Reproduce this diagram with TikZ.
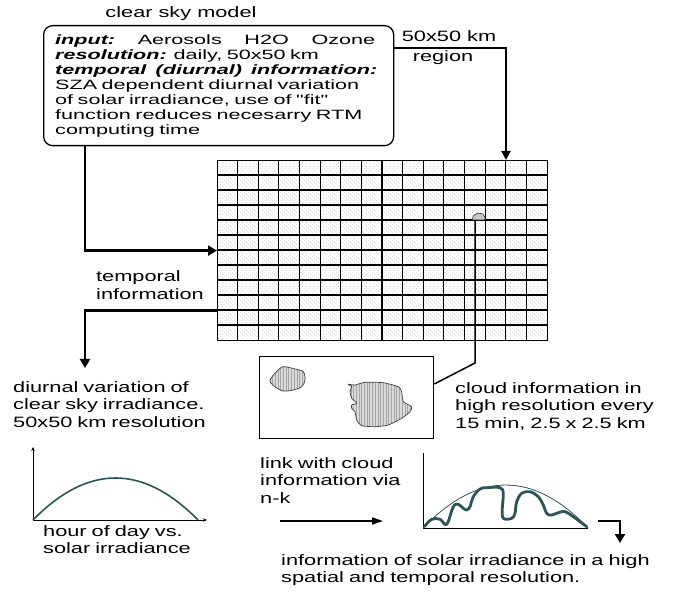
\documentclass[tikz,border=0pt]{standalone}
\usepackage{fontspec}
\setmainfont{Liberation Sans}[FakeStretch=1.45]
\newfontfamily\boxfont{Liberation Sans}[FakeStretch=1.6]
\usetikzlibrary{arrows.meta,patterns,patterns.meta,calc}
\newcommand\myBI[1]{\textbf{\textit{#1}}}
\definecolor{curvecol}{RGB}{45,84,84}
\tikzdeclarepattern{
  name=stipple,
  type=uncolored,
  bounding box={(0pt,0pt) and (4pt,4pt)},
  tile size={(4pt,4pt)},
  code={\fill (1pt,1pt) circle (0.45pt); \fill (3pt,3pt) circle (0.45pt);}
}
\begin{document}
\begin{tikzpicture}[x=1pt,y=-1pt,
  txt/.style={inner sep=0pt, anchor=base west, align=left, text width=#1, font=\fontsize{15}{17.8}\selectfont},
  txt/.default=220pt,
  ctxt/.style={inner sep=0pt, anchor=base, font=\fontsize{15}{17.8}\selectfont},
  frame/.style={draw, line width=1.3pt, inner sep=0pt, anchor=north west},
  gridline/.style={line width=1.2pt},
  thickarr/.style={line width=2.4pt, -{Triangle[length=9pt,width=10pt]}},
  medarr/.style={line width=2pt, -{Triangle[length=9pt,width=9pt]}},
  slimarr/.style={line width=2pt, -{Triangle[length=11pt,width=7pt]}},
  link/.style={line width=1.5pt},
  axis/.style={line width=0.8pt},
  axisarr/.style={line width=0.8pt, -{Stealth[length=4pt,width=3.5pt]}},
  clearcurve/.style={draw=curvecol, line width=1.6pt},
  arccurve/.style={draw=curvecol, line width=0.8pt},
  wavycurve/.style={draw=curvecol, line width=2.8pt, line cap=round, line join=round},
  cloud/.style={preaction={fill=gray!30}, pattern={Lines[angle=90,distance=2.7pt,line width=1pt]}, pattern color=gray!70, draw=black!75, line width=0.7pt}
]
\path[use as bounding box] (0,0) rectangle (677,593);

% clear sky model box
\node[ctxt] (title) at (181,18) {clear sky model};
\node[frame, rounded corners=9pt, minimum width=350pt, minimum height=120pt] (csm) at (43,25) {};
\node[inner sep=0pt, anchor=base west, align=left, text width=335pt, font=\boxfont\fontsize{13.5}{15}\selectfont] (csmtext) at (55,45)
 {\makebox[320pt][l]{\myBI{input:}\hfill Aerosols\hfill H2O\hfill Ozone}\\
  \myBI{resolution:} daily, 50x50 km\\
  \makebox[322pt][l]{\myBI{temporal\hfill(diurnal)\hfill information:}}\\
  SZA dependent diurnal variation\\
  of solar irradiance, use of "fit"\\
  function reduces necesarry RTM\\
  computing time};

% region label
\node[ctxt] (reg1) at (449,42) {50x50 km};
\node[ctxt] (reg2) at (443,62) {region};

% grid
\node[frame, line width=1.2pt, minimum width=330pt, minimum height=180pt, pattern=stipple, pattern color=gray!60] (grid) at (217,160) {};
\foreach \i in {1,...,15}
  \draw[gridline] ($(grid.north west)+(\i*20.625,0)$) -- ($(grid.south west)+(\i*20.625,0)$);
\foreach \j in {1,...,11}
  \draw[gridline] ($(grid.north west)+(0,\j*15)$) -- ($(grid.north east)+(0,\j*15)$);

% small cloud in grid
\filldraw[fill=gray!45, draw=black!80, line width=0.6pt] (472,220) -- (473.5,215.5) -- (478,213) -- (483,214) -- (485.5,218.5) -- (484,220) -- cycle;
\coordinate (gc) at (475,220);

% arrows to grid
\draw[thickarr] ([xshift=42pt]csm.south west) |- (grid.west);
\draw[medarr] ([yshift=-23pt]csm.north east) -| ([xshift=289pt]grid.north west);

% temporal information
\node[txt] (tinfo) at (96,282) {temporal\\information};
\coordinate (tend) at (85,368);
\draw[thickarr] ([yshift=-60pt]grid.west) -| (tend);

% diurnal variation text
\node[txt] (diurnal) at (13,392) {diurnal variation of\\clear sky irradiance.\\50x50 km resolution};

% left chart
\coordinate (o1) at (33,520);
\coordinate (y1) at (33,447);
\coordinate (x1) at (207,520);
\coordinate (e1) at (198,520);
\draw[axisarr] (o1) -- (y1);
\draw[axisarr] (o1) -- (x1);
\draw[clearcurve] (o1) .. controls (88,464) and (143,464) .. (e1);
\node[txt] (hour) at (43,536) {hour of day vs.\\solar irradiance};

% cloud box
\node[frame, minimum width=174pt, minimum height=82pt] (cb) at (259,356) {};
\path[cloud] plot[smooth cycle, tension=0.5] coordinates {(270,380) (280,368.3) (285,366.7) (295,369) (303.3,371.7) (305,380) (301.7,386.7) (293.3,390) (283.3,391) (275,386.7)};
\path[cloud] plot[smooth cycle, tension=0.35] coordinates {(348.3,384.3) (355,385) (365,382.3) (383.3,382.7) (398.3,386.7) (401.7,391.7) (403.3,401.7) (411.7,406.7) (410,411.7) (401.7,418.3) (388.3,425) (375,426.7) (361.7,425.7) (356.7,420) (355,411.7) (351.7,408.3) (351.7,405) (356.7,403.3) (351.7,398.3) (350,391.7) (351.7,386.7)};
\coordinate (bend) at (475,363);
\draw[link] (gc) -- (bend) -- ([yshift=-28pt]cb.north east);

\node[txt] (cinfo) at (455,393) {cloud information in\\high resolution every\\15 min, 2.5 x 2.5 km};

% link text and arrow
\node[txt] (linktxt) at (260,468) {link with cloud\\information via\\n-k};
\coordinate (la) at (280,521);
\coordinate (lb) at (383,521);
\draw[slimarr] (la) -- (lb);

% right chart
\coordinate (o2) at (423,528);
\coordinate (y2) at (423,453);
\coordinate (x2) at (588,528);
\draw[axis] (y2) -- (o2) -- (x2);
\draw[arccurve] (o2) .. controls (478.3,470.7) and (533.3,470.7) .. (x2);
\draw[wavycurve] plot[smooth, tension=0.6] coordinates {(424.3,526.7) (431.7,519.3) (440,519.3) (446.7,524.3) (453.3,506.7) (458.3,504.3) (463.3,508.3) (466.7,510) (470,506.7) (473.3,496.7) (480,489) (486.7,487.7) (500,487.7) (503.3,493.3) (502.3,508.3) (503.3,518.3) (511.7,518.3) (515,513.3) (516.7,501.7) (521.7,493.3) (530,491.7) (538.3,496.7) (543.3,505) (546.7,513.3) (551.7,515) (561.7,511.7) (568.3,513.3) (586.7,526.7)};

% final arrow
\coordinate (fa) at (598,521);
\coordinate (fb) at (620,543);
\draw[thickarr] (fa) -| (fb);

\node[txt=390pt] (final) at (281,565) {information of solar irradiance in a high\\spatial and temporal resolution.};
\end{tikzpicture}
\end{document}
